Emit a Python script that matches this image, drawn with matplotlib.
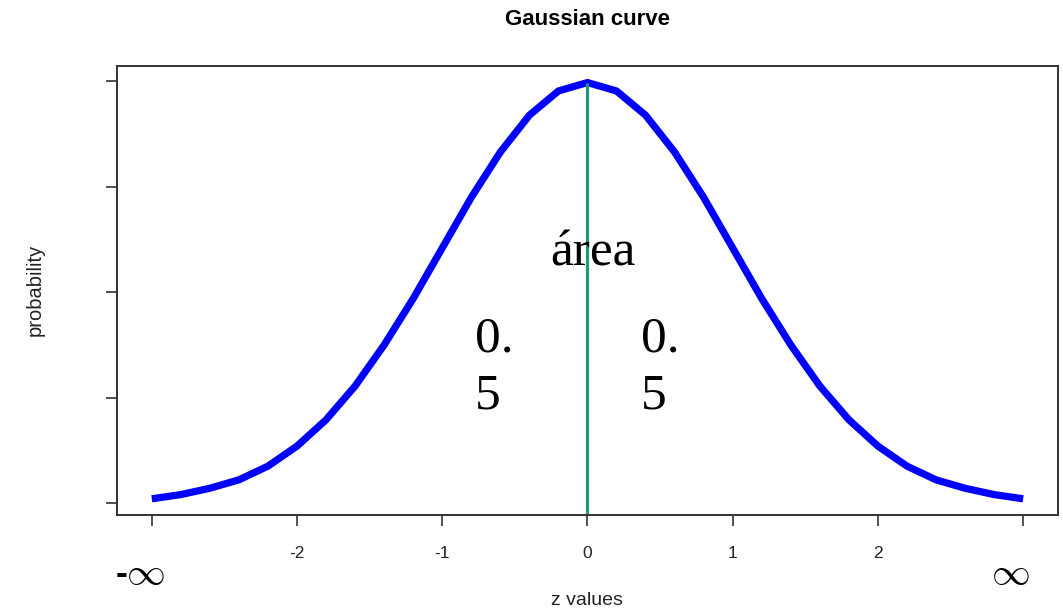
import matplotlib
matplotlib.use("Agg")
import matplotlib.pyplot as plt

# z values and density
z_vals = [-3.0, -2.8, -2.6, -2.4, -2.2, -2.0, -1.8, -1.6, -1.4, -1.2, -1.0, -0.8, -0.6, -0.4, -0.2,
          0.0, 0.2, 0.4, 0.6, 0.8, 1.0, 1.2, 1.4, 1.6, 1.8, 2.0, 2.2, 2.4, 2.6, 2.8, 3.0]
probs = [0.004, 0.008, 0.014, 0.022, 0.035, 0.054, 0.079, 0.111, 0.150, 0.194, 0.242, 0.290,
         0.333, 0.368, 0.391, 0.399, 0.391, 0.368, 0.333, 0.290, 0.242, 0.194, 0.150, 0.111,
         0.079, 0.054, 0.035, 0.022, 0.014, 0.008, 0.004]
x_ticks = [-3, -2, -1, 0, 1, 2, 3]
x_labels = ["", "-2", "-1", "0", "1", "2", ""]
y_ticks = [0.0, 0.1, 0.2, 0.3, 0.4]
peak = 0.399

fig = plt.figure(figsize=(10.63, 6.10), dpi=100)
ax = fig.add_axes([0.110, 0.1557, 0.8853, 0.7361])

ax.plot(z_vals, probs, color="#0000ff", lw=5.2, solid_capstyle="butt", solid_joinstyle="round")
ax.vlines(0, -0.02, peak, color="#1b9a78", lw=2.2)

ax.set_xlim(-3.24, 3.24)
ax.set_ylim(-0.0114, 0.4147)
ax.set_xticks(x_ticks)
ax.set_xticklabels(x_labels, fontsize=12.5, family="Liberation Sans", color="#222222")
ax.set_yticks(y_ticks)
ax.set_yticklabels([])
ax.tick_params(length=8, width=1.2, color="#333333", pad=14)
for s in ax.spines.values():
    s.set_color("#333333")
    s.set_linewidth(1.4)

sans = "Liberation Sans"
fig.text(0.553, 0.968, "Gaussian curve", fontsize=16, fontweight="bold", family=sans,
         ha="center", va="center")
fig.text(0.552, 0.016, "z values", fontsize=14, family=sans, ha="center", va="center",
         color="#222222")
fig.text(0.033, 0.525, "probability", fontsize=14.5, family=sans, ha="center", va="center",
         rotation=90, color="#222222")

serif = ["Liberation Serif", "DejaVu Serif"]
ax.text(0.04, 0.237, "área", fontsize=37, family=serif, ha="center", va="center")
ax.text(-0.64, 0.128, "0.\n5", fontsize=37, family=serif, ha="center", va="center",
        linespacing=1.3, multialignment="left")
ax.text(0.5, 0.128, "0.\n5", fontsize=37, family=serif, ha="center", va="center",
        linespacing=1.3, multialignment="left")

# infinity marks under the end ticks
ax.text(-3.205, -0.068, "-", fontsize=26, family=sans, fontweight="bold",
        ha="center", va="center", clip_on=False)
ax.text(-3.045, -0.066, r"$\infty$", fontsize=28, math_fontfamily="cm",
        ha="center", va="center", clip_on=False)
ax.text(2.91, -0.066, r"$\infty$", fontsize=28, math_fontfamily="cm",
        ha="center", va="center", clip_on=False)

fig.savefig("out.png", dpi=100)
